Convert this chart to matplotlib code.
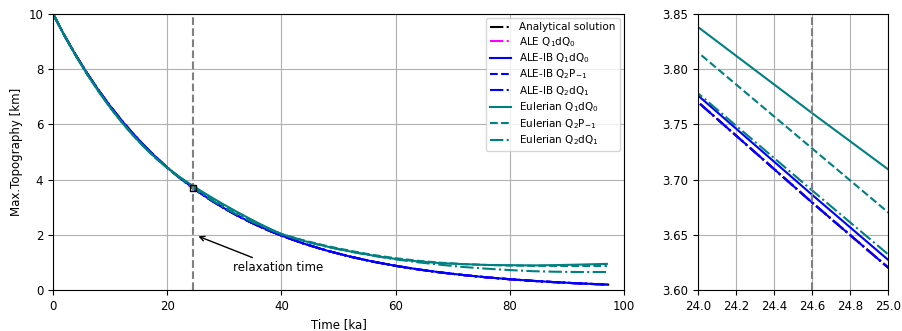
import matplotlib
matplotlib.use("Agg")
import matplotlib.pyplot as plt

# ---- data ----
time_ana = [0, 2, 4, 6, 8, 10, 12, 14, 16, 18, 20, 22, 24, 24.6, 25, 26, 28, 30, 32, 34, 36, 38,
            40, 44, 48, 52, 56, 60, 64, 68, 72, 76, 80, 84, 88, 92, 96, 98]
analytical = [10.0, 9.219, 8.499, 7.836, 7.224, 6.660, 6.140, 5.660, 5.218, 4.811, 4.435, 4.089,
              3.770, 3.679, 3.620, 3.475, 3.204, 2.954, 2.723, 2.511, 2.315, 2.134,
              1.967, 1.672, 1.421, 1.208, 1.027, 0.873, 0.742, 0.630, 0.536, 0.455, 0.387,
              0.329, 0.280, 0.238, 0.202, 0.186]

time_num = [0, 2, 4, 6, 8, 10, 12, 14, 16, 18, 20, 22, 24, 24.6, 25, 26, 28, 30, 32, 34, 36, 38,
            40, 44, 48, 52, 56, 60, 64, 68, 72, 76, 80, 84, 88, 92, 97]
ale_q1dq0 = [10.0, 9.219, 8.499, 7.836, 7.224, 6.660, 6.140, 5.660, 5.218, 4.811, 4.435, 4.089,
             3.770, 3.679, 3.620, 3.475, 3.204, 2.954, 2.723, 2.511, 2.315, 2.134,
             1.967, 1.672, 1.421, 1.208, 1.027, 0.873, 0.742, 0.630, 0.536, 0.455, 0.387,
             0.329, 0.280, 0.238, 0.194]
aleib_q1dq0 = [10.0, 9.220, 8.501, 7.839, 7.228, 6.664, 6.145, 5.665, 5.223, 4.816, 4.440, 4.094,
               3.776, 3.686, 3.627, 3.481, 3.209, 2.958, 2.727, 2.514, 2.318, 2.137,
               1.969, 1.674, 1.423, 1.210, 1.029, 0.875, 0.744, 0.632, 0.538, 0.457, 0.389,
               0.331, 0.282, 0.240, 0.196]
aleib_q2p1 = [10.0, 9.219, 8.499, 7.836, 7.224, 6.660, 6.140, 5.660, 5.218, 4.811, 4.435, 4.089,
              3.770, 3.679, 3.620, 3.475, 3.204, 2.954, 2.723, 2.511, 2.315, 2.134,
              1.967, 1.672, 1.421, 1.208, 1.027, 0.873, 0.742, 0.630, 0.536, 0.455, 0.387,
              0.329, 0.280, 0.238, 0.194]
aleib_q2dq1 = [10.0, 9.219, 8.499, 7.836, 7.224, 6.660, 6.140, 5.660, 5.218, 4.811, 4.435, 4.089,
               3.770, 3.679, 3.620, 3.475, 3.204, 2.954, 2.723, 2.511, 2.315, 2.134,
               1.967, 1.672, 1.421, 1.208, 1.027, 0.873, 0.742, 0.630, 0.536, 0.455, 0.387,
               0.329, 0.280, 0.238, 0.194]
eul_q1dq0 = [10.0, 9.209, 8.479, 7.806, 7.184, 6.610, 6.085, 5.605, 5.168, 4.776, 4.425, 4.119,
             3.838, 3.760, 3.709, 3.575, 3.324, 3.084, 2.853, 2.631, 2.415, 2.214,
             2.027, 1.772, 1.571, 1.398, 1.247, 1.123, 1.032, 0.970, 0.936, 0.905, 0.897,
             0.889, 0.900, 0.918, 0.944]
eul_q2p1 = [10.0, 9.209, 8.479, 7.806, 7.184, 6.610, 6.085, 5.605, 5.168, 4.773, 4.415, 4.100,
            3.815, 3.728, 3.670, 3.545, 3.295, 3.058, 2.830, 2.612, 2.400, 2.205,
            2.025, 1.790, 1.590, 1.420, 1.270, 1.150, 1.055, 0.985, 0.935, 0.905, 0.885,
            0.875, 0.870, 0.868, 0.870]
eul_q2dq1 = [10.0, 9.210, 8.480, 7.810, 7.190, 6.615, 6.090, 5.610, 5.175, 4.780, 4.430, 4.090,
             3.778, 3.690, 3.632, 3.490, 3.225, 2.980, 2.755, 2.550, 2.360, 2.180,
             2.020, 1.770, 1.560, 1.390, 1.240, 1.110, 1.000, 0.910, 0.830, 0.770, 0.720,
             0.680, 0.660, 0.650, 0.650]

relaxation_time = 24.6
relaxation_height = 3.679

labels = ['Analytical solution', r'ALE Q$_1$dQ$_0$', r'ALE-IB Q$_1$dQ$_0$',
          r'ALE-IB Q$_2$P$_{-1}$', r'ALE-IB Q$_2$dQ$_1$', r'Eulerian Q$_1$dQ$_0$',
          r'Eulerian Q$_2$P$_{-1}$', r'Eulerian Q$_2$dQ$_1$']

series = [
    (time_ana, analytical, 'black', '-.'),
    (time_num, ale_q1dq0, 'magenta', '-.'),
    (time_num, aleib_q1dq0, 'blue', '-'),
    (time_num, aleib_q2p1, 'blue', '--'),
    (time_num, aleib_q2dq1, 'blue', '-.'),
    (time_num, eul_q1dq0, 'teal', '-'),
    (time_num, eul_q2p1, 'teal', '--'),
    (time_num, eul_q2dq1, 'teal', '-.'),
]

fig = plt.figure(figsize=(9.02, 3.31), dpi=100)
ax1 = fig.add_axes([0.0588, 0.124, 0.633, 0.834])
ax2 = fig.add_axes([0.774, 0.124, 0.211, 0.834])

for ax in (ax1, ax2):
    for (t, v, c, ls), lab in zip(series, labels):
        ax.plot(t, v, color=c, linestyle=ls, linewidth=1.5, label=lab)
    ax.axvline(relaxation_time, color='gray', linestyle='--', linewidth=1.5)
    ax.grid(True)
    ax.tick_params(labelsize=8.5)

ax1.plot([relaxation_time], [relaxation_height], marker='s', markersize=5,
         markerfacecolor='none', markeredgecolor='black', markeredgewidth=1, linestyle='none')
ax1.annotate('relaxation time', xy=(25.0, 1.98), xytext=(39.5, 0.8),
             ha='center', va='center', fontsize=8.5,
             arrowprops=dict(arrowstyle='->', color='black', lw=1))

ax1.set_xlim(0, 100)
ax1.set_ylim(0, 10)
ax1.set_xlabel('Time [ka]', fontsize=8.5)
ax1.set_ylabel('Max.Topography [km]', fontsize=8.5)
ax1.legend(loc='upper right', fontsize=7.5, labelspacing=0.25, borderaxespad=0.4)

ax2.set_xlim(24.0, 25.0)
ax2.set_ylim(3.60, 3.85)
ax2.set_xticks([24.0, 24.2, 24.4, 24.6, 24.8, 25.0])
ax2.set_yticks([3.60, 3.65, 3.70, 3.75, 3.80, 3.85])

fig.savefig('out.png', dpi=100)
